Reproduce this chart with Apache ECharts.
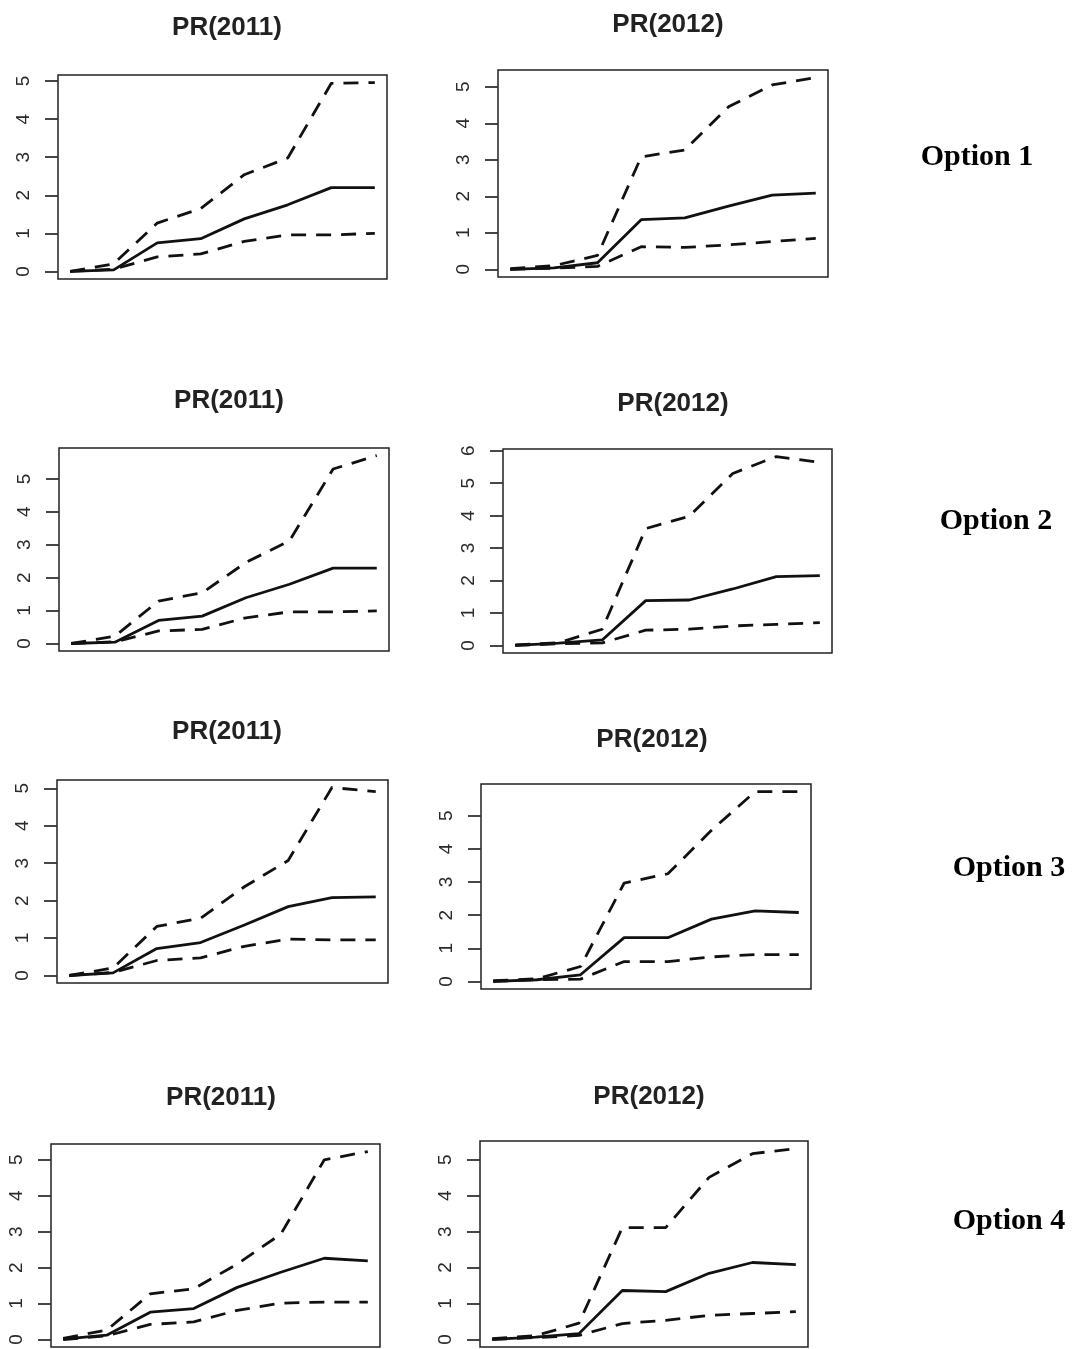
<!DOCTYPE html>
<html>
<head>
<meta charset="utf-8">
<script src="https://cdn.jsdelivr.net/npm/echarts@6/dist/echarts.min.js"></script>
<style>
html,body{margin:0;padding:0;background:#fff;}
#chart{width:1077px;height:1349px;}
</style>
</head>
<body>
<div id="chart"></div>
<script>
// x positions (time steps)
const steps = [1, 2, 3, 4, 5, 6, 7, 8];

// Panel titles and option labels
const titles = ["PR(2011)", "PR(2012)", "PR(2011)", "PR(2012)", "PR(2011)", "PR(2012)", "PR(2011)", "PR(2012)"];
const optionLabels = ["Option 1", "Option 2", "Option 3", "Option 4"];

// Option 1
const o1_2011_upper = [0.00, 0.20, 1.27, 1.65, 2.54, 2.98, 4.94, 4.96];
const o1_2011_mid   = [0.00, 0.04, 0.75, 0.86, 1.38, 1.75, 2.20, 2.20];
const o1_2011_lower = [0.00, 0.06, 0.38, 0.46, 0.79, 0.96, 0.96, 1.00];
const o1_2012_upper = [0.02, 0.10, 0.38, 3.08, 3.27, 4.45, 5.05, 5.25];
const o1_2012_mid   = [0.00, 0.04, 0.18, 1.36, 1.41, 1.73, 2.03, 2.09];
const o1_2012_lower = [0.00, 0.03, 0.08, 0.62, 0.60, 0.67, 0.76, 0.85];

// Option 2
const o2_2011_upper = [0.00, 0.22, 1.29, 1.54, 2.46, 3.12, 5.30, 5.71];
const o2_2011_mid   = [0.00, 0.04, 0.70, 0.83, 1.39, 1.80, 2.29, 2.29];
const o2_2011_lower = [0.00, 0.05, 0.38, 0.43, 0.78, 0.96, 0.96, 0.99];
const o2_2012_upper = [0.02, 0.08, 0.50, 3.60, 3.98, 5.30, 5.82, 5.64];
const o2_2012_mid   = [0.00, 0.07, 0.17, 1.38, 1.40, 1.74, 2.12, 2.15];
const o2_2012_lower = [0.00, 0.05, 0.08, 0.47, 0.50, 0.60, 0.65, 0.70];

// Option 3
const o3_2011_upper = [0.00, 0.20, 1.31, 1.53, 2.37, 3.07, 5.02, 4.91];
const o3_2011_mid   = [0.00, 0.07, 0.72, 0.88, 1.35, 1.84, 2.08, 2.10];
const o3_2011_lower = [0.00, 0.08, 0.40, 0.47, 0.78, 0.97, 0.95, 0.95];
const o3_2012_upper = [0.02, 0.08, 0.45, 2.97, 3.25, 4.56, 5.73, 5.73];
const o3_2012_mid   = [0.00, 0.05, 0.20, 1.32, 1.32, 1.88, 2.13, 2.08];
const o3_2012_lower = [0.00, 0.05, 0.07, 0.60, 0.60, 0.74, 0.81, 0.81];

// Option 4
const o4_2011_upper = [0.03, 0.26, 1.27, 1.41, 2.10, 2.93, 5.00, 5.23];
const o4_2011_mid   = [0.01, 0.12, 0.76, 0.86, 1.45, 1.87, 2.26, 2.19];
const o4_2011_lower = [0.00, 0.10, 0.42, 0.49, 0.81, 1.01, 1.04, 1.04];
const o4_2012_upper = [0.02, 0.10, 0.45, 3.11, 3.11, 4.51, 5.17, 5.31];
const o4_2012_mid   = [0.00, 0.06, 0.16, 1.36, 1.33, 1.84, 2.14, 2.08];
const o4_2012_lower = [0.00, 0.05, 0.11, 0.44, 0.53, 0.67, 0.72, 0.77];

// y tick labels
const ticks5 = [0, 1, 2, 3, 4, 5];
const ticks6 = [0, 1, 2, 3, 4, 5, 6];

const panels = [
  {title: titles[0], upper: o1_2011_upper, mid: o1_2011_mid, lower: o1_2011_lower, ticks: ticks5},
  {title: titles[1], upper: o1_2012_upper, mid: o1_2012_mid, lower: o1_2012_lower, ticks: ticks5},
  {title: titles[2], upper: o2_2011_upper, mid: o2_2011_mid, lower: o2_2011_lower, ticks: ticks5},
  {title: titles[3], upper: o2_2012_upper, mid: o2_2012_mid, lower: o2_2012_lower, ticks: ticks6},
  {title: titles[4], upper: o3_2011_upper, mid: o3_2011_mid, lower: o3_2011_lower, ticks: ticks5},
  {title: titles[5], upper: o3_2012_upper, mid: o3_2012_mid, lower: o3_2012_lower, ticks: ticks5},
  {title: titles[6], upper: o4_2011_upper, mid: o4_2011_mid, lower: o4_2011_lower, ticks: ticks5},
  {title: titles[7], upper: o4_2012_upper, mid: o4_2012_mid, lower: o4_2012_lower, ticks: ticks5}
];

// Layout (pixel frames: left, top, right, bottom) and title centres
const frames = [
  [58, 75, 387, 279], [498, 70, 828, 277],
  [59, 448, 389, 651], [503, 449, 832, 653],
  [57, 780, 388, 983], [481, 784, 811, 989],
  [51, 1144, 380, 1347], [480, 1141, 808, 1347]
];
const titlePos = [
  [222, 25], [663, 22],
  [224, 398], [668, 401],
  [222, 729], [647, 737],
  [216, 1095], [644, 1094]
];
const optionPos = [[972, 155], [991, 519], [1004, 866], [1004, 1219]];

const grids = [], xAxes = [], yAxes = [], series = [], titleArr = [];
const toPairs = arr => arr.map((v, i) => [steps[i], v]);

panels.forEach((p, i) => {
  const f = frames[i];
  grids.push({left: f[0], top: f[1], width: f[2] - f[0], height: f[3] - f[1],
    show: true, borderColor: '#222', borderWidth: 1.5, backgroundColor: 'transparent'});
  const xr = steps[steps.length - 1] - steps[0];
  xAxes.push({type: 'value', gridIndex: i, min: steps[0] - 0.04 * xr, max: steps[steps.length - 1] + 0.04 * xr,
    show: false});
  const all = p.upper.concat(p.mid, p.lower);
  const lo = Math.min.apply(null, all), hi = Math.max.apply(null, all);
  const r = hi - lo;
  yAxes.push({type: 'value', gridIndex: i, min: lo - 0.04 * r, max: hi + 0.04 * r,
    splitLine: {show: false},
    axisLine: {show: false},
    axisTick: {show: true, length: 13, customValues: p.ticks, lineStyle: {color: '#333', width: 1.8}},
    axisLabel: {show: true, customValues: p.ticks, rotate: 90, margin: 25, color: '#2a2a2a',
      fontFamily: 'Liberation Sans, Arial, sans-serif', fontSize: 19}
  });
  const common = {type: 'line', xAxisIndex: i, yAxisIndex: i, symbol: 'none', silent: true, animation: false};
  series.push(Object.assign({}, common, {name: p.title + ' upper', data: toPairs(p.upper),
    lineStyle: {color: '#111', width: 2.8, type: [15, 10]}}));
  series.push(Object.assign({}, common, {name: p.title + ' mid', data: toPairs(p.mid),
    lineStyle: {color: '#111', width: 2.8, type: 'solid'}}));
  series.push(Object.assign({}, common, {name: p.title + ' lower', data: toPairs(p.lower),
    lineStyle: {color: '#111', width: 2.8, type: [15, 10]}}));
  titleArr.push({text: p.title, left: titlePos[i][0], top: titlePos[i][1] - 15, textAlign: 'center',
    textStyle: {fontFamily: 'Liberation Sans, Arial, sans-serif', fontWeight: 'bold', fontSize: 26, color: '#222'}});
});

optionLabels.forEach((t, k) => {
  titleArr.push({text: t, left: optionPos[k][0], top: optionPos[k][1] - 18, textAlign: 'center',
    textStyle: {fontFamily: 'Liberation Serif, Times New Roman, serif', fontWeight: 'bold', fontSize: 30, color: '#000'}});
});

const chart = echarts.init(document.getElementById('chart'), null, {renderer: 'canvas'});
chart.setOption({
  animation: false,
  backgroundColor: '#fff',
  title: titleArr,
  grid: grids,
  xAxis: xAxes,
  yAxis: yAxes,
  series: series
});
</script>
</body>
</html>
